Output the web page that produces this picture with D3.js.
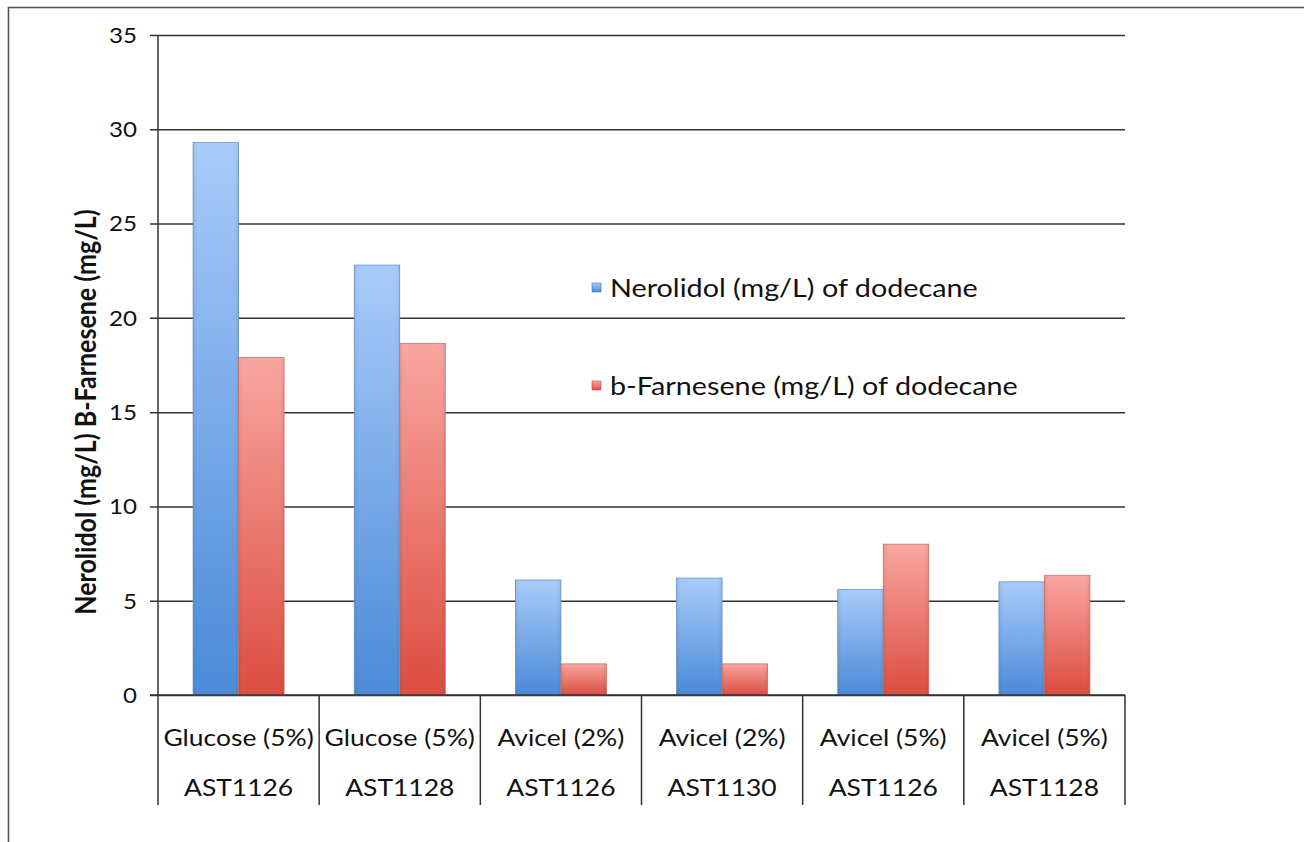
<!DOCTYPE html>
<html>
<head>
<meta charset="utf-8">
<script src="https://cdn.jsdelivr.net/npm/d3@7"></script>
<style>
  html, body { margin: 0; padding: 0; background: #fff; }
  svg { display: block; }
  text { font-family: Lato, "Open Sans", sans-serif; fill: #111; }
</style>
</head>
<body>
<svg id="chart" width="1304" height="842"></svg>
<script>
// Media / strain pairs along the x axis
const media = ["Glucose (5%)", "Glucose (5%)", "Avicel (2%)", "Avicel (2%)", "Avicel (5%)", "Avicel (5%)"];
const strains = ["AST1126", "AST1128", "AST1126", "AST1130", "AST1126", "AST1128"];

// Titres measured in the dodecane overlay (mg/L)
const nerolidol = [29.3, 22.8, 6.1, 6.2, 5.6, 6.0];
const farnesene = [17.9, 18.65, 1.65, 1.65, 8.0, 6.35];

const seriesNames = ["Nerolidol (mg/L) of dodecane", "b-Farnesene (mg/L) of dodecane"];
const yTicks = [0, 5, 10, 15, 20, 25, 30, 35];

const svg = d3.select("#chart");
const margin = { left: 158, right: 1125, top: 35, bottom: 695 };
const STRETCH = 1.15; // horizontal widening applied to the chart's lettering

// Place a text at (x, y) and widen it horizontally about that anchor
function place(sel, x, y) {
  return sel.attr("x", 0).attr("y", 0)
    .attr("transform", `translate(${x},${y}) scale(${STRETCH},1)`);
}

// Outer frame
svg.append("rect")
  .attr("x", 8.5).attr("y", 7.5)
  .attr("width", 1400).attr("height", 1000)
  .attr("fill", "#fff")
  .attr("stroke", "#555").attr("stroke-width", 1.6);

const keys = media.map((m, i) => i);
const x0 = d3.scaleBand().domain(keys).range([margin.left, margin.right]).paddingInner(0).paddingOuter(0);
const bandW = x0.bandwidth();
const y = d3.scaleLinear().domain([0, 35]).range([margin.bottom, margin.top]);

// Gradients for the bars
const defs = svg.append("defs");
function grad(id, top, bottom) {
  const g = defs.append("linearGradient").attr("id", id)
    .attr("x1", 0).attr("y1", 0).attr("x2", 0).attr("y2", 1);
  g.append("stop").attr("offset", "0%").attr("stop-color", top);
  g.append("stop").attr("offset", "100%").attr("stop-color", bottom);
}
grad("gBlue", "#a9cbfa", "#4a8ad8");
grad("gRed", "#f9a6a0", "#dc4c40");
function sideGrad(id) {
  const g = defs.append("linearGradient").attr("id", id)
    .attr("x1", 0).attr("y1", 0).attr("x2", 1).attr("y2", 0);
  g.append("stop").attr("offset", "0%").attr("stop-color", "#000").attr("stop-opacity", 0.08);
  g.append("stop").attr("offset", "15%").attr("stop-color", "#fff").attr("stop-opacity", 0.0);
  g.append("stop").attr("offset", "85%").attr("stop-color", "#fff").attr("stop-opacity", 0.0);
  g.append("stop").attr("offset", "100%").attr("stop-color", "#000").attr("stop-opacity", 0.08);
}
sideGrad("gSide");

// Horizontal gridlines with short tick stubs to the left of the axis
const yAxis = d3.axisLeft(y).tickValues(yTicks).tickSize(-(margin.right - margin.left)).tickPadding(0);
const gy = svg.append("g").attr("transform", `translate(${margin.left},0)`).call(yAxis);
gy.select(".domain").remove();
gy.selectAll(".tick line").attr("x1", -8).attr("stroke", "#333").attr("stroke-width", 1.5);
gy.selectAll(".tick text")
  .attr("dy", "0.35em")
  .style("font-family", "Lato, sans-serif").style("font-size", "21px").attr("fill", "#222")
  .each(function() { place(d3.select(this), -21, 0); });

// Vertical axis line
svg.append("line")
  .attr("x1", margin.left).attr("x2", margin.left)
  .attr("y1", margin.top).attr("y2", margin.bottom)
  .attr("stroke", "#333").attr("stroke-width", 1.5);

// Bars
const bw = 45.5;
const groups = svg.append("g").selectAll("g").data(keys).join("g");
groups.each(function(i) {
  const g = d3.select(this);
  const cx = x0(i) + bandW / 2;
  const vals = [nerolidol[i], farnesene[i]];
  vals.forEach((v, k) => {
    const bx = cx - bw + k * bw;
    g.append("rect")
      .attr("x", bx).attr("y", y(v))
      .attr("width", bw).attr("height", y(0) - y(v))
      .attr("fill", k === 0 ? "url(#gBlue)" : "url(#gRed)")
      .attr("stroke", k === 0 ? "#6a96cc" : "#d0766c").attr("stroke-width", 0.8);
    g.append("rect")
      .attr("x", bx).attr("y", y(v))
      .attr("width", bw).attr("height", y(0) - y(v))
      .attr("fill", "url(#gSide)");
  });
});

// Baseline
svg.append("line")
  .attr("x1", margin.left - 8).attr("x2", margin.right)
  .attr("y1", margin.bottom).attr("y2", margin.bottom)
  .attr("stroke", "#333").attr("stroke-width", 1.5);

// Category separators running below the axis
const seps = d3.range(keys.length + 1).map(i => i === keys.length ? margin.right : x0(i));
svg.append("g").selectAll("line").data(seps).join("line")
  .attr("x1", d => d).attr("x2", d => d)
  .attr("y1", margin.bottom).attr("y2", 805)
  .attr("stroke", "#333").attr("stroke-width", 1.5);

// Two-row category labels
svg.append("g").selectAll("text").data(keys).join("text")
  .attr("text-anchor", "middle").style("font-size", "23px")
  .text(i => media[i])
  .each(function(i) { place(d3.select(this), x0(i) + bandW / 2, 746); });
svg.append("g").selectAll("text").data(keys).join("text")
  .attr("text-anchor", "middle").style("font-size", "23px")
  .text(i => strains[i])
  .each(function(i) { place(d3.select(this), x0(i) + bandW / 2, 796); });

// Y axis title
svg.append("text")
  .attr("transform", `translate(96,412) scale(${STRETCH},1) rotate(-90)`)
  .attr("text-anchor", "middle")
  .style("font-size", "25px").style("font-weight", "bold")
  .text("Nerolidol (mg/L) B-Farnesene (mg/L)");

// Legend
const legend = svg.append("g");
const legY = [288, 386];
seriesNames.forEach((name, k) => {
  legend.append("rect")
    .attr("x", 592).attr("y", legY[k] - 5)
    .attr("width", 9).attr("height", 9)
    .attr("fill", k === 0 ? "url(#gBlue)" : "url(#gRed)")
    .attr("stroke", k === 0 ? "#3a78c8" : "#c84a40").attr("stroke-width", 0.6);
  place(legend.append("text"), 610, legY[k])
    .attr("dy", "0.35em")
    .style("font-size", "25px")
    .text(name);
});
</script>
</body>
</html>
